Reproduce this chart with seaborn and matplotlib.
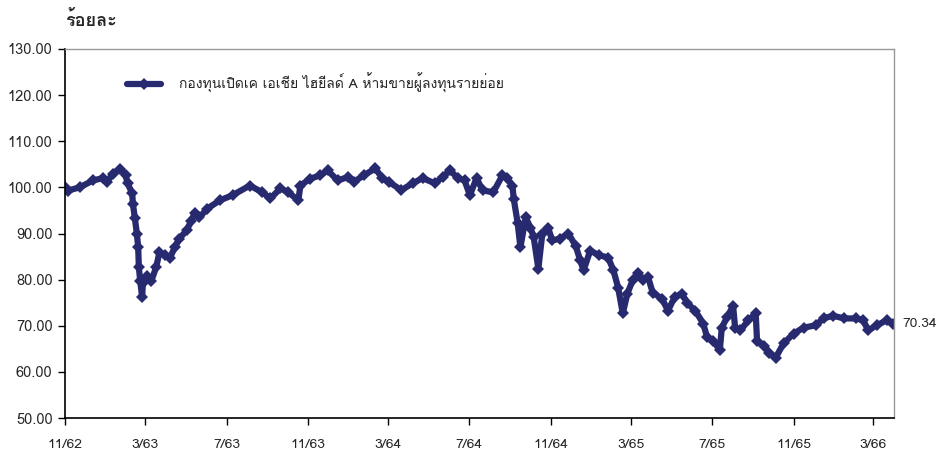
import numpy as np
import pandas as pd
import matplotlib
matplotlib.use("Agg")
import matplotlib.pyplot as plt
from matplotlib import font_manager
from matplotlib.ft2font import FT2Font
import seaborn as sns

# ข้อมูลอ่านจากกราฟ (ร้อยละ เทียบฐาน 100)
dates = ["2019-11-01", "2019-11-05", "2019-11-23", "2019-12-13", "2019-12-28", "2020-01-03",
         "2020-01-12", "2020-01-23", "2020-01-31", "2020-02-03", "2020-02-10", "2020-02-11",
         "2020-02-14", "2020-02-17", "2020-02-19", "2020-02-20", "2020-02-22", "2020-02-25",
         "2020-02-26", "2020-03-03", "2020-03-10", "2020-03-17", "2020-03-22", "2020-03-30",
         "2020-04-07", "2020-04-14", "2020-04-21", "2020-05-02", "2020-05-09", "2020-05-14",
         "2020-05-21", "2020-06-02", "2020-06-21", "2020-07-10", "2020-08-05", "2020-08-24",
         "2020-09-05", "2020-09-20", "2020-10-02", "2020-10-17", "2020-10-20", "2020-11-04",
         "2020-11-19", "2020-11-30", "2020-12-15", "2020-12-30", "2021-01-08", "2021-01-23",
         "2021-02-10", "2021-02-20", "2021-03-03", "2021-03-21", "2021-04-07", "2021-04-22",
         "2021-05-10", "2021-05-22", "2021-06-02", "2021-06-14", "2021-06-24", "2021-07-02",
         "2021-07-12", "2021-07-21", "2021-08-06", "2021-08-20", "2021-08-27", "2021-09-04",
         "2021-09-06", "2021-09-12", "2021-09-16", "2021-09-24", "2021-10-01", "2021-10-06",
         "2021-10-13", "2021-10-19", "2021-10-28", "2021-11-03", "2021-11-15", "2021-11-27",
         "2021-12-08", "2021-12-15", "2021-12-20", "2021-12-30", "2022-01-12", "2022-01-26",
         "2022-02-03", "2022-02-10", "2022-02-17", "2022-02-24", "2022-03-04", "2022-03-12",
         "2022-03-19", "2022-03-27", "2022-04-03", "2022-04-17", "2022-04-26", "2022-05-06",
         "2022-05-17", "2022-05-25", "2022-06-06", "2022-06-18", "2022-06-24", "2022-07-03",
         "2022-07-13", "2022-07-16", "2022-07-24", "2022-08-02", "2022-08-05", "2022-08-13",
         "2022-08-25", "2022-09-05", "2022-09-07", "2022-09-17", "2022-09-25", "2022-10-05",
         "2022-10-17", "2022-11-01", "2022-11-16", "2022-12-04", "2022-12-16", "2022-12-30",
         "2023-01-16", "2023-02-03", "2023-02-14", "2023-02-21", "2023-03-06", "2023-03-21",
         "2023-03-31"]
values = [100.0, 99.3, 100.0, 101.5, 102.0, 101.2,
          103.0, 104.0, 102.6, 100.9, 98.7, 96.5,
          93.3, 90.0, 87.0, 82.7, 79.8, 76.2,
          79.2, 80.9, 79.8, 82.7, 85.9, 85.3,
          84.8, 87.0, 88.9, 90.7, 92.8, 94.4,
          93.5, 95.4, 97.2, 98.3, 100.4, 98.9,
          97.6, 99.8, 98.9, 97.2, 100.4, 101.9,
          102.6, 103.7, 101.5, 102.2, 101.1, 102.6,
          104.1, 102.0, 101.1, 99.4, 100.9, 102.0,
          100.9, 102.2, 103.7, 102.0, 101.5, 98.3,
          102.0, 99.4, 98.9, 102.6, 102.0, 100.4,
          97.5, 92.2, 87.0, 93.5, 91.3, 89.2,
          82.4, 90.0, 91.1, 88.5, 88.9, 90.0,
          87.4, 84.2, 82.0, 86.3, 85.3, 84.8,
          82.0, 78.3, 72.7, 77.0, 79.9, 81.4,
          79.9, 80.6, 77.2, 75.9, 73.3, 76.2,
          77.0, 74.9, 73.3, 70.5, 67.5, 66.8,
          64.7, 69.6, 71.9, 74.3, 69.6, 69.0,
          71.2, 72.7, 66.8, 65.7, 64.2, 63.1,
          66.2, 68.3, 69.6, 70.1, 71.6, 72.2,
          71.6, 71.6, 71.2, 69.0, 70.1, 71.2,
          70.34]
fund_name = "กองทุนเปิดเค เอเชีย ไฮยีลด์ A ห้ามขายผู้ลงทุนรายย่อย"
tick_dates = ["2019-11-01", "2020-03-01", "2020-07-01", "2020-11-01", "2021-03-01", "2021-07-01",
              "2021-11-01", "2022-03-01", "2022-07-01", "2022-11-01", "2023-03-01"]
tick_labels = ["11/62", "3/63", "7/63", "11/63", "3/64", "7/64", "11/64", "3/65", "7/65", "11/65", "3/66"]

sns.set_style("white")

# หาฟอนต์ที่มีอักษรไทย
thai_font = None
for f in font_manager.fontManager.ttflist:
    try:
        if 0x0E01 in FT2Font(f.fname).get_charmap():
            thai_font = f.name
            break
    except Exception:
        pass
families = ["Noto Sans", "DejaVu Sans"]
if thai_font:
    families = [thai_font] + families
plt.rcParams["font.family"] = families

df = pd.DataFrame({"date": pd.to_datetime(dates), "value": values})
line_color = "#282A70"

fig = plt.figure(figsize=(9.43, 4.53), dpi=100)
ax = fig.add_axes([0.069, 0.077, 0.879, 0.815])
sns.lineplot(data=df, x="date", y="value", ax=ax, color=line_color, linewidth=4.5,
             marker="D", markersize=6.5, markeredgewidth=0, label=fund_name)

ax.set_xlim(pd.Timestamp("2019-11-01"), pd.Timestamp("2023-04-01"))
ax.set_ylim(50, 130)
ax.set_yticks(np.arange(50, 131, 10))
ax.set_yticklabels([f"{v:.2f}" for v in np.arange(50, 131, 10)], fontsize=10.5)
ax.set_xticks(pd.to_datetime(tick_dates))
ax.set_xticklabels(tick_labels, fontsize=10)
ax.tick_params(axis="both", direction="out", length=5, width=1, color="black", left=True, bottom=True)
ax.tick_params(axis="x", pad=10)
ax.tick_params(axis="y", pad=4)
ax.set_xlabel("")
ax.set_ylabel("")

for side in ["left", "bottom"]:
    ax.spines[side].set_color("black")
    ax.spines[side].set_linewidth(1.2)
for side in ["top", "right"]:
    ax.spines[side].set_color("#999999")
    ax.spines[side].set_linewidth(1)

leg = ax.legend(loc="center left", bbox_to_anchor=(0.06, 0.908), frameon=False,
                fontsize=10, handlelength=2.4, handletextpad=1.3)

ax.text(1.01, values[-1], f"{values[-1]:.2f}", transform=ax.get_yaxis_transform(),
        va="center", ha="left", fontsize=10)
fig.text(0.069, 0.955, "ร้อยละ", fontsize=13, fontweight="bold", va="center", ha="left")

fig.savefig("out.png", dpi=100)
